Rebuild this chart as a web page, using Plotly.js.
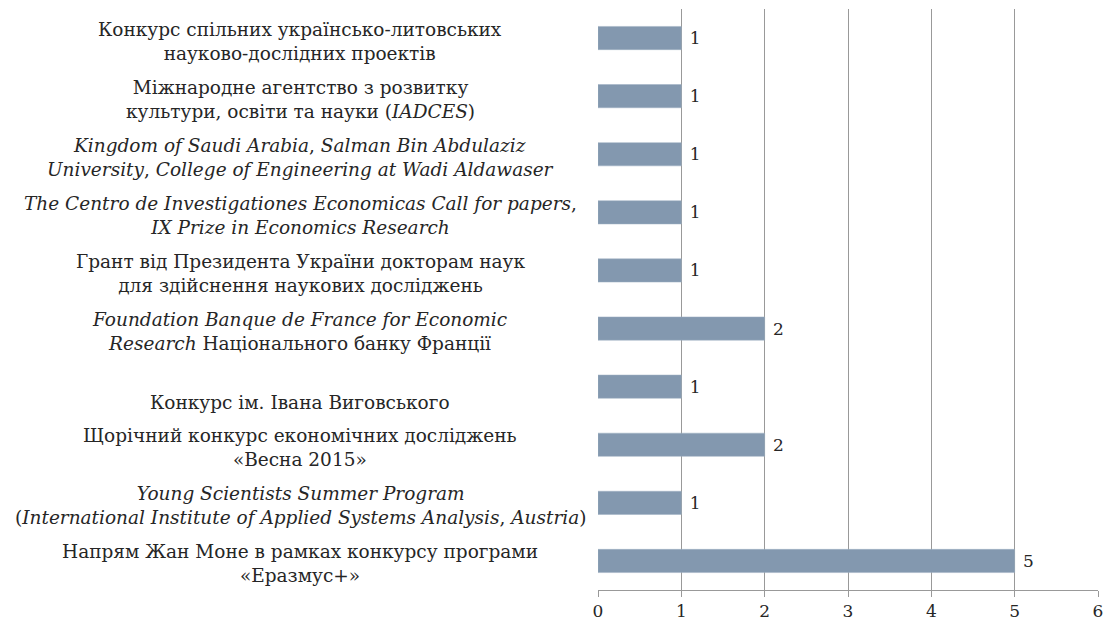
<!DOCTYPE html>
<html>
<head>
<meta charset="utf-8">
<script src="https://cdn.plot.ly/plotly-3.0.1.min.js"></script>
<style>html,body{margin:0;padding:0;background:#fff;}#chart{width:1107px;height:623px;}</style>
</head>
<body>
<div id="chart"></div>
<script>
// Categories, top to bottom
const categories = [
  "Конкурс спільних українсько-литовських<br>науково-дослідних проектів",
  "Міжнародне агентство з розвитку<br>культури, освіти та науки (<i>IADCES</i>)",
  "<i>Kingdom of Saudi Arabia</i>, <i>Salman Bin Abdulaziz</i><br><i>University</i>, <i>College of Engineering at Wadi Aldawaser</i>",
  "<i>The Centro de Investigationes Economicas Call for papers</i>,<br><i>IX Prize in Economics Research</i>",
  "Грант від Президента України докторам наук<br>для здійснення наукових досліджень",
  "<i>Foundation Banque de France for Economic</i><br><i>Research</i> Національного банку Франції",
  "Конкурс ім. Івана Виговського",
  "Щорічний конкурс економічних досліджень<br>«Весна 2015»",
  "<i>Young Scientists Summer Program</i><br>(<i>International Institute of Applied Systems Analysis</i>, <i>Austria</i>)",
  "Напрям Жан Моне в рамках конкурсу програми<br>«Еразмус+»"
];
const values = [1, 1, 1, 1, 1, 2, 1, 2, 1, 5];
const xTicks = [0, 1, 2, 3, 4, 5, 6];

const fontFam = "DejaVu Serif";
const txtColor = "#262626";

const trace = {
  type: "bar",
  orientation: "h",
  y: categories,
  x: values,
  marker: { color: "#8398af", line: { color: "#9fb0c2", width: 0.5 } },
  texttemplate: " %{x}",
  textposition: "outside",
  textfont: { family: fontFam, size: 17, color: txtColor },
  cliponaxis: false,
  hoverinfo: "skip"
};

const annotations = categories.map((c, i) => ({
  xref: "paper", yref: "y",
  x: -0.596, y: i,
  xanchor: "center", yanchor: "middle",
  text: c, showarrow: false, align: "center",
  yshift: c.indexOf("Виговського") >= 0 ? -16 : -3,
  font: { family: fontFam, size: 18.5, color: txtColor }
}));

const layout = {
  width: 1107, height: 623,
  margin: { l: 598, r: 9, t: 9, b: 33 },
  paper_bgcolor: "#fff", plot_bgcolor: "#fff",
  showlegend: false,
  bargap: 0.6,
  font: { family: fontFam },
  xaxis: {
    range: [0, 6],
    tickvals: xTicks,
    ticktext: xTicks.map(String),
    showgrid: true, gridcolor: "#999999", gridwidth: 1,
    zeroline: false,
    showline: true, linecolor: "#999999", linewidth: 1,
    ticks: "outside", ticklen: 6, tickcolor: "#999999", tickwidth: 1,
    tickfont: { family: fontFam, size: 17, color: txtColor },
    fixedrange: true
  },
  yaxis: {
    type: "category",
    autorange: "reversed",
    showticklabels: false,
    showgrid: false, zeroline: false, showline: false, ticks: "",
    fixedrange: true
  },
  annotations: annotations
};

Plotly.newPlot("chart", [trace], layout, { displayModeBar: false, staticPlot: true });
</script>
</body>
</html>
